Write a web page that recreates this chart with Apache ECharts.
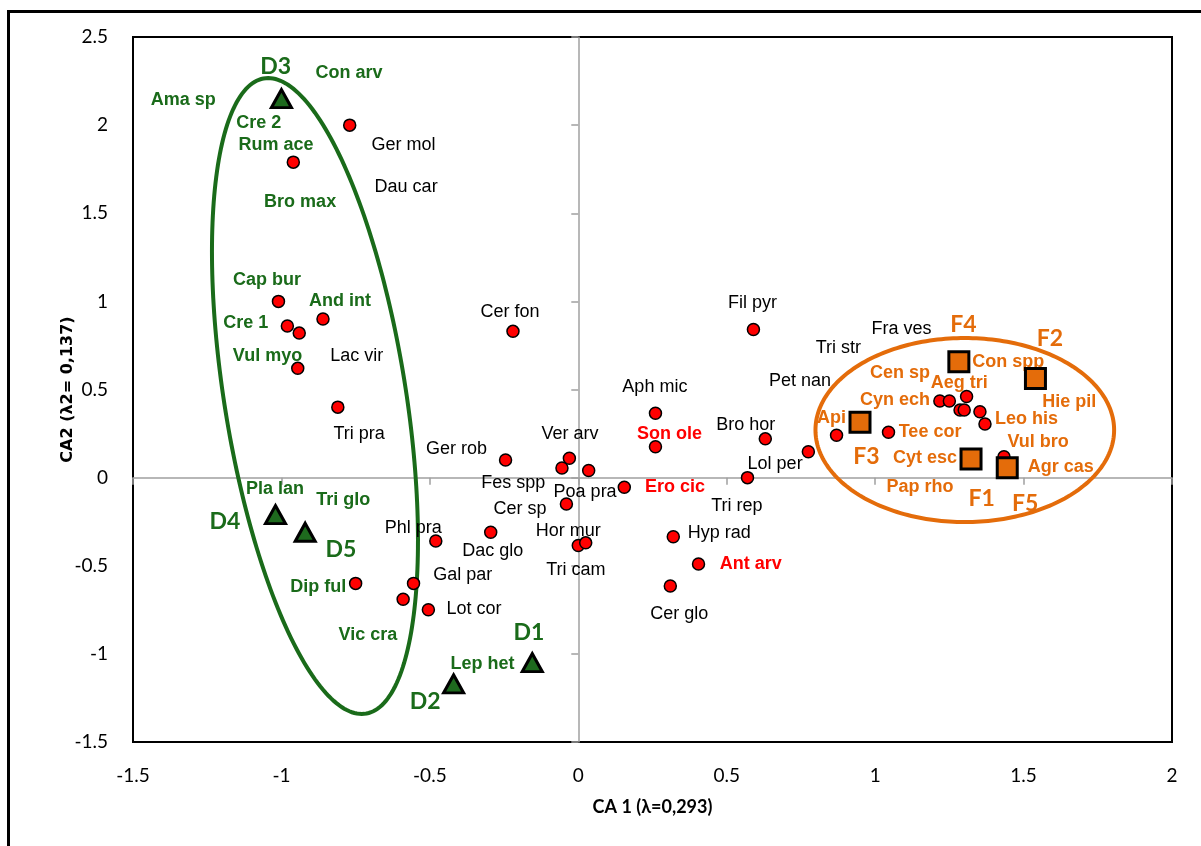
<!DOCTYPE html>
<html>
<head>
<meta charset="utf-8">
<script src="https://cdn.jsdelivr.net/npm/echarts@6/dist/echarts.min.js"></script>
<style>
  html, body { margin: 0; padding: 0; background: #ffffff; }
  #chart { width: 1201px; height: 846px; }
</style>
</head>
<body>
<div id="chart"></div>
<script>
// CA ordination scores: species (red dots) and sampling sites D1-D5 / F1-F5
const speciesScores = [
  [-0.77, 2.00], [-0.96, 1.79], [-1.01, 1.00], [-0.98, 0.86], [-0.94, 0.82],
  [-0.86, 0.90], [-0.945, 0.62], [-0.81, 0.40], [-0.22, 0.83], [0.59, 0.84],
  [0.26, 0.365], [0.26, 0.175], [0.63, 0.22], [-0.245, 0.10], [-0.03, 0.11],
  [-0.055, 0.055], [0.035, 0.04], [0.57, 0.00], [0.155, -0.055], [-0.04, -0.15],
  [-0.295, -0.31], [-0.48, -0.36], [0.00, -0.385], [0.025, -0.37], [0.32, -0.335],
  [0.405, -0.49], [0.31, -0.615], [-0.75, -0.60], [-0.555, -0.60], [-0.59, -0.69],
  [-0.505, -0.75], [0.775, 0.147], [0.87, 0.24], [1.045, 0.257], [1.218, 0.435],
  [1.25, 0.435], [1.308, 0.46], [1.286, 0.384], [1.30, 0.384], [1.353, 0.374],
  [1.37, 0.304], [1.434, 0.119]
];

// Site scores D1..D5 and F1..F5
const sitesD = [[-0.155, -1.05], [-0.42, -1.17], [-1.00, 2.15], [-1.02, -0.21], [-0.92, -0.31]];
const sitesF = [[1.323, 0.105], [1.54, 0.563], [0.949, 0.314], [1.282, 0.658], [1.445, 0.056]];

// Label anchors (text, x, y) in ordination units
const labelsSiteD = [
  ['D1', -0.166, -0.878], ['D2', -0.516, -1.271], ['D3', -1.019, 2.331],
  ['D4', -1.19, -0.25], ['D5', -0.80, -0.411]
];
const labelsSiteF = [
  ['F1', 1.359, -0.117], ['F2', 1.589, 0.79], ['F3', 0.971, 0.119],
  ['F4', 1.297, 0.871], ['F5', 1.505, -0.146]
];
const labelsGreen = [
  ['Ama sp', -1.331, 2.142], ['Con arv', -0.772, 2.296], ['Cre 2', -1.076, 2.012],
  ['Rum ace', -1.018, 1.887], ['Bro max', -0.937, 1.564], ['Cap bur', -1.049, 1.121],
  ['And int', -0.803, 1.004], ['Cre 1', -1.12, 0.879], ['Vul myo', -1.047, 0.692],
  ['Pla lan', -1.022, -0.066], ['Tri glo', -0.792, -0.127], ['Dip ful', -0.876, -0.622],
  ['Vic cra', -0.709, -0.893], ['Lep het', -0.323, -1.056]
];
const labelsBlack = [
  ['Ger mol', -0.589, 1.887], ['Dau car', -0.58, 1.647], ['Lac vir', -0.746, 0.692],
  ['Tri pra', -0.738, 0.246], ['Ger rob', -0.41, 0.162], ['Cer fon', -0.23, 0.941],
  ['Ver arv', -0.028, 0.247], ['Aph mic', 0.258, 0.516], ['Fil pyr', 0.587, 0.992],
  ['Bro hor', 0.564, 0.298], ['Lol per', 0.663, 0.075], ['Pet nan', 0.747, 0.548],
  ['Tri str', 0.876, 0.734], ['Fra ves', 1.089, 0.841], ['Fes spp', -0.219, -0.029],
  ['Poa pra', 0.023, -0.083], ['Cer sp', -0.196, -0.18], ['Phl pra', -0.556, -0.288],
  ['Dac glo', -0.288, -0.415], ['Hor mur', -0.034, -0.301], ['Tri cam', -0.008, -0.524],
  ['Gal par', -0.389, -0.553], ['Lot cor', -0.351, -0.746], ['Hyp rad', 0.475, -0.316],
  ['Tri rep', 0.534, -0.159], ['Cer glo', 0.34, -0.774]
];
const labelsRed = [
  ['Son ole', 0.307, 0.246], ['Ero cic', 0.326, -0.052], ['Ant arv', 0.581, -0.49]
];
const labelsOrange = [
  ['Cen sp', 1.084, 0.592], ['Aeg tri', 1.283, 0.535], ['Cyn ech', 1.067, 0.44],
  ['Api', 0.853, 0.336], ['Tee cor', 1.185, 0.257], ['Cyt esc', 1.168, 0.11],
  ['Pap rho', 1.151, -0.055], ['Con spp', 1.448, 0.658], ['Hie pil', 1.654, 0.427],
  ['Leo his', 1.51, 0.332], ['Vul bro', 1.549, 0.2], ['Agr cas', 1.625, 0.062]
];

// Group outlines: centre, half-width, half-height and phase (deg) of x=cx+w*cos t, y=cy+h*cos(t+phase)
const groupOutlines = [
  { cx: -0.887, cy: 0.463, w: 0.347, h: 1.804, phase: 117, color: '#1a6b1a' },
  { cx: 1.302, cy: 0.27, w: 0.503, h: 0.522, phase: 90, color: '#e46c0a' }
];

const GREEN = '#1a6b1a';
const ORANGE = '#e46c0a';
const RED = '#ff0000';

function textLayer(rows, color, font, z) {
  return {
    type: 'custom',
    coordinateSystem: 'cartesian2d',
    silent: true,
    z: z,
    data: rows.map(r => [r[1], r[2]]),
    encode: { x: 0, y: 1 },
    renderItem: function (params, api) {
      const p = api.coord([api.value(0), api.value(1)]);
      return {
        type: 'text',
        x: p[0],
        y: p[1],
        style: {
          text: rows[params.dataIndex][0],
          fill: color,
          font: font,
          align: 'center',
          verticalAlign: 'middle'
        }
      };
    }
  };
}

const outlineSeries = {
  type: 'custom',
  coordinateSystem: 'cartesian2d',
  silent: true,
  z: 1,
  data: groupOutlines.map(g => [g.cx, g.cy]),
  encode: { x: 0, y: 1 },
  renderItem: function (params, api) {
    const g = groupOutlines[params.dataIndex];
    const ph = g.phase * Math.PI / 180;
    const pts = [];
    for (let i = 0; i < 240; i++) {
      const t = i / 240 * Math.PI * 2;
      pts.push(api.coord([g.cx + g.w * Math.cos(t), g.cy + g.h * Math.cos(t + ph)]));
    }
    return {
      type: 'polygon',
      shape: { points: pts },
      style: { fill: 'none', stroke: g.color, lineWidth: 4 }
    };
  }
};

const tickFont = { fontFamily: 'Lato', fontSize: 19, color: '#000' };

const option = {
  animation: false,
  backgroundColor: '#ffffff',
  grid: {
    left: 133, top: 37, right: 29, bottom: 104,
    show: true, borderColor: '#000', borderWidth: 2, backgroundColor: 'transparent'
  },
  xAxis: [
    {
      type: 'value', min: -1.5, max: 2, interval: 0.5, position: 'bottom',
      axisLine: { show: false, onZero: false },
      axisTick: { show: false },
      splitLine: { show: false },
      axisLabel: Object.assign({ margin: 24 }, tickFont),
      name: 'CA 1 (λ=0,293)', nameLocation: 'middle', nameGap: 56,
      nameTextStyle: { fontFamily: 'Lato', fontWeight: 'bold', fontSize: 18, color: '#000' }
    },
    {
      type: 'value', min: -1.5, max: 2, interval: 0.5, position: 'bottom',
      axisLine: { show: true, onZero: true, onZeroAxisIndex: 0, lineStyle: { color: '#a0a0a0', width: 1.5 } },
      axisTick: { show: true, length: 7, lineStyle: { color: '#a0a0a0', width: 1.5 } },
      splitLine: { show: false },
      axisLabel: { show: false }
    }
  ],
  yAxis: [
    {
      type: 'value', min: -1.5, max: 2.5, interval: 0.5, position: 'left',
      axisLine: { show: false, onZero: false },
      axisTick: { show: false },
      splitLine: { show: false },
      axisLabel: Object.assign({ margin: 25 }, tickFont),
      name: 'CA2 (λ2= 0,137)', nameLocation: 'middle', nameGap: 57, nameMoveOverlap: false,
      nameTextStyle: { fontFamily: 'DejaVu Sans', fontWeight: 'bold', fontSize: 16, color: '#000' }
    },
    {
      type: 'value', min: -1.5, max: 2.5, interval: 0.5, position: 'left',
      axisLine: { show: true, onZero: true, onZeroAxisIndex: 0, lineStyle: { color: '#a0a0a0', width: 1.5 } },
      axisTick: { show: true, length: 7, lineStyle: { color: '#a0a0a0', width: 1.5 } },
      splitLine: { show: false },
      axisLabel: { show: false }
    }
  ],
  graphic: [
    {
      type: 'polyline',
      silent: true,
      shape: { points: [[8.5, 846], [8.5, 11.5], [1201, 11.5]] },
      style: { stroke: '#000', lineWidth: 3, fill: 'none' }
    }
  ],
  series: [
    outlineSeries,
    {
      type: 'scatter', name: 'species', silent: true, z: 2,
      data: speciesScores,
      symbol: 'circle', symbolSize: 12,
      itemStyle: { color: RED, borderColor: '#000', borderWidth: 1.5, opacity: 1 }
    },
    textLayer(labelsBlack, '#000', '18px "Liberation Sans"', 3),
    textLayer(labelsGreen, GREEN, 'bold 18px "Liberation Sans"', 3),
    textLayer(labelsRed, RED, 'bold 18px "Liberation Sans"', 3),
    textLayer(labelsOrange, ORANGE, 'bold 18px "Liberation Sans"', 3),
    {
      type: 'scatter', name: 'D sites', silent: true, z: 4,
      data: sitesD,
      symbol: 'triangle', symbolSize: [20, 18],
      itemStyle: { color: '#1e6a1e', borderColor: '#000', borderWidth: 3, opacity: 1 }
    },
    {
      type: 'scatter', name: 'F sites', silent: true, z: 4,
      data: sitesF,
      symbol: 'rect', symbolSize: 20,
      itemStyle: { color: ORANGE, borderColor: '#000', borderWidth: 3, opacity: 1 }
    },
    textLayer(labelsSiteD, GREEN, 'bold 23px Lato', 5),
    textLayer(labelsSiteF, ORANGE, 'bold 23px Lato', 5)
  ]
};

const chart = echarts.init(document.getElementById('chart'), null, { renderer: 'canvas' });
chart.setOption(option);
</script>
</body>
</html>
